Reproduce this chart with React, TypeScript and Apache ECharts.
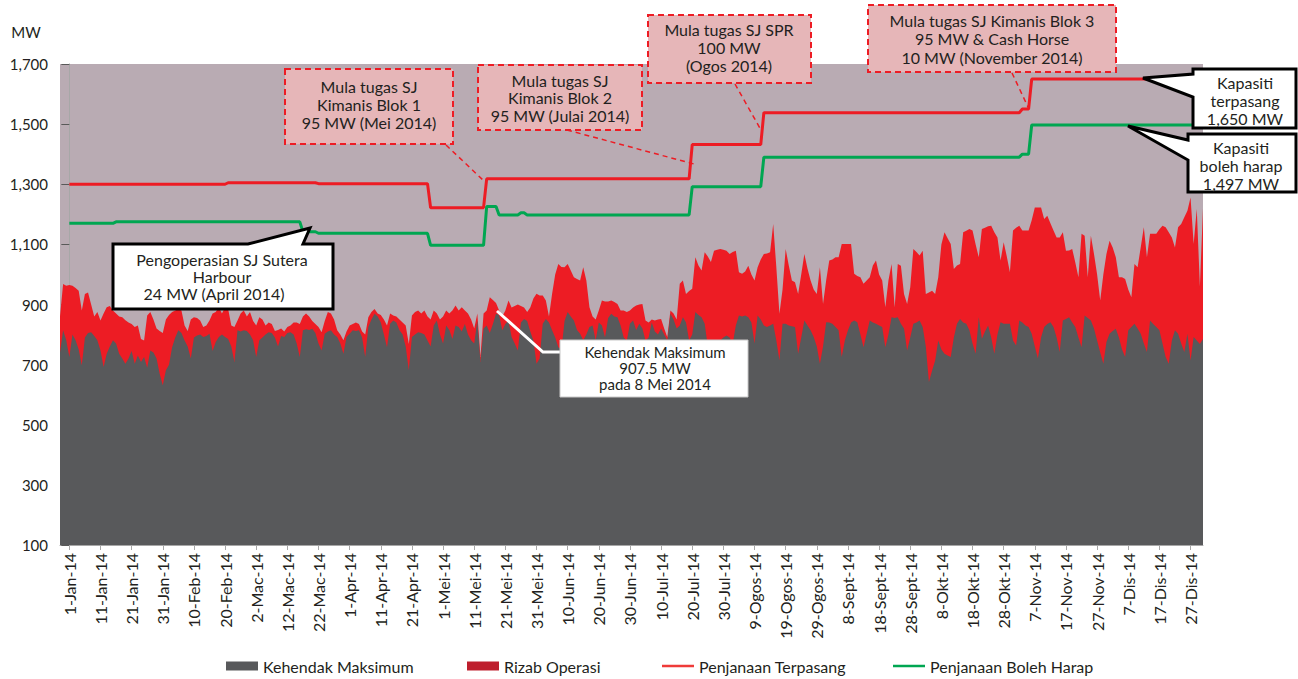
import React, { useEffect, useRef } from "react";
import * as echarts from "echarts";

// Area data begins three days before 1 Jan 2014 (visible at the left edge of the plot)
const AREA_FIRST_DAY = -3;

// Kehendak Maksimum (MW), daily, from 29 Dis 2013 to 31 Dis 2014
const kehendakMaksimum: number[] = [
  740, 814, 781,
  // Jan
  725, 800, 781, 750, 698, 790, 805, 808, 795, 781, 747, 692, 736, 760, 781, 770, 736, 720, 703, 720, 745, 703, 730, 709, 725, 690, 747, 740, 720, 670, 631,
  // Feb
  681, 700, 758, 790, 814, 805, 780, 760, 720, 790, 797, 800, 792, 795, 803, 745, 775, 792, 800, 792, 785, 760, 709, 814, 810, 814, 812, 800,
  // Mac
  781, 725, 781, 790, 800, 808, 805, 790, 760, 795, 792, 805, 808, 800, 770, 725, 814, 818, 815, 819, 805, 770, 747, 803, 810, 814, 800, 792, 770, 736, 792,
  // Apr
  803, 814, 812, 814, 790, 725, 825, 850, 869, 860, 840, 800, 758, 836, 847, 840, 814, 800, 760, 681, 792, 800, 808, 805, 800, 780, 760, 830, 847, 800,
  // Mei
  770, 830, 815, 785, 830, 825, 810, 835, 800, 781, 770, 847, 709, 820, 830, 805, 835, 869, 865, 814, 835, 847, 792, 770, 747, 840, 852, 845, 810, 780, 703,
  // Jun
  720, 836, 852, 840, 814, 790, 758, 750, 845, 875, 860, 847, 815, 803, 781, 800, 825, 830, 781, 840, 830, 790, 855, 869, 860, 858, 830, 790, 780, 836,
  // Jul
  847, 815, 836, 820, 780, 790, 840, 810, 800, 820, 800, 780, 869, 850, 820, 830, 858, 840, 780, 800, 875, 865, 858, 836, 760, 725, 730, 745, 780, 790, 797,
  // Ogos
  790, 770, 830, 863, 860, 863, 858, 840, 770, 863, 850, 830, 825, 830, 836, 780, 714, 836, 836, 830, 828, 825, 736, 790, 847, 830, 814, 792, 760, 703, 760,
  // Sept
  841, 840, 836, 825, 814, 725, 780, 814, 840, 847, 841, 800, 758, 803, 847, 840, 836, 830, 825, 758, 800, 858, 855, 858, 836, 820, 747, 790, 836, 840,
  // Okt
  847, 825, 760, 642, 680, 714, 780, 750, 736, 730, 725, 790, 836, 852, 840, 836, 814, 770, 736, 858, 786, 810, 830, 790, 736, 800, 841, 836, 836, 836, 780,
  // Nov
  764, 847, 840, 830, 825, 803, 760, 720, 790, 825, 835, 841, 825, 790, 742, 847, 852, 858, 840, 825, 790, 758, 863, 855, 847, 820, 780, 740, 703, 775,
  // Dis
  803, 812, 819, 790, 750, 725, 814, 825, 836, 820, 803, 770, 742, 847, 835, 825, 814, 770, 725, 703, 780, 814, 803, 770, 742, 803, 714, 792, 780, 769, 785,
];

// Kehendak + Rizab Operasi (MW): top edge of the red area, daily
const kapasitiTersedia: number[] = [
  860, 968, 962,
  // Jan
  965, 962, 955, 946, 880, 935, 940, 900, 860, 875, 847, 870, 891, 895, 880, 870, 860, 858, 848, 840, 835, 825, 830, 785, 780, 863, 875, 850, 820, 812, 805,
  // Feb
  850, 865, 875, 880, 885, 880, 830, 812, 850, 858, 855, 847, 825, 830, 847, 870, 875, 891, 870, 891, 885, 830, 825, 847, 870, 880, 860, 875,
  // Mac
  845, 830, 858, 850, 830, 840, 835, 812, 815, 820, 810, 825, 830, 840, 840, 835, 860, 870, 860, 845, 835, 825, 808, 845, 875, 870, 850, 814, 800, 781, 810,
  // Apr
  830, 835, 840, 835, 810, 800, 858, 875, 885, 870, 865, 850, 830, 870, 863, 860, 850, 840, 830, 769, 863, 875, 880, 870, 880, 860, 850, 880, 870, 850,
  // Mei
  860, 880, 870, 880, 897, 880, 891, 880, 870, 850, 820, 870, 725, 870, 880, 924, 915, 905, 880, 860, 880, 913, 890, 895, 900, 895, 890, 875, 890, 920, 936,
  // Jun
  930, 930, 913, 860, 935, 1000, 1035, 1025, 1024, 1035, 1013, 991, 985, 980, 1024, 980, 891, 860, 850, 880, 913, 910, 910, 913, 908, 902, 880, 880, 875, 880,
  // Jul
  890, 897, 900, 902, 847, 840, 850, 847, 850, 852, 820, 791, 880, 870, 850, 969, 980, 935, 945, 952, 1057, 1030, 1013, 1074, 1060, 1041, 1079, 1082, 1085, 1082, 1079,
  // Ogos
  1068, 1075, 1079, 1007, 1002, 1010, 1029, 1000, 980, 1024, 1050, 1068, 1070, 1074, 1168, 1024, 869, 950, 1085, 1030, 980, 974, 935, 1000, 1068, 1020, 980, 950, 935, 1024, 902,
  // Sept
  980, 1046, 1050, 1057, 1057, 1101, 1101, 1101, 1101, 1002, 995, 991, 969, 980, 991, 1030, 1046, 1000, 980, 891, 980, 1035, 890, 1035, 1029, 935, 902, 957, 1085, 1075,
  // Okt
  1063, 1079, 935, 940, 946, 935, 991, 1100, 1140, 1120, 1101, 1018, 1030, 1035, 1140, 1145, 1151, 1146, 1100, 1057, 1151, 1155, 1160, 1162, 1140, 1123, 1046, 1107, 1060, 1007, 1146,
  // Nov
  1155, 1162, 1146, 1146, 1146, 1180, 1223, 1223, 1223, 1184, 1195, 1170, 1146, 1123, 1123, 1140, 1079, 1080, 1085, 1040, 991, 1135, 1129, 991, 1129, 1068, 1000, 913, 1000, 1068,
  // Dis
  1112, 1090, 1057, 991, 991, 985, 950, 924, 1035, 1024, 1090, 1157, 1057, 1135, 1135, 1135, 1150, 1162, 1157, 1140, 1123, 1090, 1157, 1168, 1190, 1212, 1256, 1101, 1218, 960, 1220,
];

// Step changes of the two capacity lines (day index from 1 Jan 2014)
const terpasangStartDay = [0, 51, 80, 116, 134, 200, 223, 306, 309];
const terpasangMW = [1300, 1305, 1302, 1222, 1318, 1432, 1538, 1550, 1650];
const bolehHarapStartDay = [0, 15, 75, 80, 116, 134, 138, 145, 147, 200, 223, 306, 309];
const bolehHarapMW = [1170, 1175, 1142, 1137, 1097, 1226, 1198, 1205, 1198, 1292, 1390, 1400, 1497];
const LAST_DAY = 364;

const xTickDays = [0, 10, 20, 30, 40, 50, 60, 70, 80, 90, 100, 110, 120, 130, 140, 150, 160, 170, 180, 190, 200, 210, 220, 230, 240, 250, 260, 270, 280, 290, 300, 310, 320, 330, 340, 350, 360];
const xTickLabels = [
  "1-Jan-14", "11-Jan-14", "21-Jan-14", "31-Jan-14", "10-Feb-14", "20-Feb-14", "2-Mac-14", "12-Mac-14", "22-Mac-14",
  "1-Apr-14", "11-Apr-14", "21-Apr-14", "1-Mei-14", "11-Mei-14", "21-Mei-14", "31-Mei-14", "10-Jun-14", "20-Jun-14",
  "30-Jun-14", "10-Jul-14", "20-Jul-14", "30-Jul-14", "9-Ogos-14", "19-Ogos-14", "29-Ogos-14", "8-Sept-14", "18-Sept-14",
  "28-Sept-14", "8-Okt-14", "18-Okt-14", "28-Okt-14", "7-Nov-14", "17-Nov-14", "27-Nov-14", "7-Dis-14", "17-Dis-14", "27-Dis-14",
];
const yTickValues = [100, 300, 500, 700, 900, 1100, 1300, 1500, 1700];

const FONT = "Lato, 'Open Sans', 'DejaVu Sans', sans-serif";
const TXT = "#231f20";
const LINE_ICON = "path://M0,0 L32,0 L32,2.5 L0,2.5 Z";

function stepSeries(starts: number[], values: number[]): number[][] {
  const out: number[][] = [];
  for (let d = 0; d <= LAST_DAY; d++) {
    let v = values[0];
    for (let k = 0; k < starts.length; k++) if (starts[k] <= d) v = values[k];
    out.push([d, v]);
  }
  return out;
}

function textLines(cx: number, y0: number, dy: number, lines: string[], size = 16) {
  return lines.map((t, i) => ({
    type: "text",
    z: 101,
    x: cx,
    y: y0 + i * dy,
    style: { text: t, fill: TXT, font: `${size}px ${FONT}`, align: "center", verticalAlign: "middle" },
  }));
}

function dashedBox(x: number, y: number, w: number, h: number) {
  return {
    type: "rect",
    z: 100,
    shape: { x, y, width: w, height: h },
    style: { fill: "#e6b6b8", stroke: "#ed1c24", lineWidth: 2, lineDash: [6, 4] },
  };
}

function dashedLeader(x1: number, y1: number, x2: number, y2: number) {
  return {
    type: "line",
    z: 100,
    shape: { x1, y1, x2, y2 },
    style: { stroke: "#ed1c24", lineWidth: 1.5, lineDash: [5, 4] },
  };
}

function callout(points: number[][]) {
  return {
    type: "polygon",
    z: 100,
    shape: { points },
    style: { fill: "#ffffff", stroke: "#000000", lineWidth: 3, lineJoin: "miter" },
  };
}

export default function App() {
  const ref = useRef<HTMLDivElement>(null);

  useEffect(() => {
    if (!ref.current) return;
    const chart = echarts.init(ref.current, undefined, { renderer: "svg" });

    const n = Math.min(kehendakMaksimum.length, kapasitiTersedia.length);
    const demandData: number[][] = [];
    const topData: number[][] = [];
    for (let i = 0; i < n; i++) {
      const day = AREA_FIRST_DAY + i;
      demandData.push([day, kehendakMaksimum[i]]);
      // Rizab Operasi sits on top of the demand: its upper edge is demand + reserve
      topData.push([day, kapasitiTersedia[i]]);
    }

    const legendText = { color: TXT, fontFamily: FONT, fontSize: 16 };
    const legendBase = {
      top: 658,
      itemWidth: 32,
      itemHeight: 9,
      itemGap: 6,
      selectedMode: false,
      textStyle: legendText,
      padding: 0,
    };

    const option: any = {
      animation: false,
      backgroundColor: "#ffffff",
      textStyle: { fontFamily: FONT },
      grid: {
        left: 60,
        top: 64,
        right: 95,
        bottom: 134,
        show: true,
        backgroundColor: "#b9abb3",
        borderWidth: 0,
      },
      legend: [
        { ...legendBase, left: 226, data: [{ name: "Kehendak Maksimum", icon: "rect", itemStyle: { color: "#58595b" } }] },
        { ...legendBase, left: 467, data: [{ name: "Rizab Operasi", icon: "rect", itemStyle: { color: "#be1e2d" } }] },
        { ...legendBase, left: 662, data: [{ name: "Penjanaan Terpasang", icon: LINE_ICON, itemStyle: { color: "#ef3b39" } }] },
        { ...legendBase, left: 893, data: [{ name: "Penjanaan Boleh Harap", icon: LINE_ICON, itemStyle: { color: "#00a651" } }] },
      ],
      xAxis: {
        type: "value",
        min: AREA_FIRST_DAY,
        max: LAST_DAY,
        axisLine: { show: true, lineStyle: { color: "#a7a7a7", width: 1 } },
        axisTick: { show: true, customValues: xTickDays, length: 5, lineStyle: { color: "#a7a7a7" } },
        axisLabel: {
          customValues: xTickDays,
          rotate: 90,
          margin: 8,
          color: TXT,
          fontFamily: FONT,
          fontSize: 16,
          formatter: (v: number) => xTickLabels[Math.round(v / 10)] ?? "",
        },
        splitLine: { show: false },
      },
      yAxis: {
        type: "value",
        min: 100,
        max: 1700,
        axisLine: { show: true, lineStyle: { color: "#a7a7a7", width: 1 } },
        axisTick: { show: true, customValues: yTickValues, length: 8, lineStyle: { color: "#595959" } },
        axisLabel: {
          customValues: yTickValues,
          margin: 12,
          color: TXT,
          fontFamily: FONT,
          fontSize: 15,
          formatter: (v: number) => v.toLocaleString("en-US"),
        },
        splitLine: { show: false },
      },
      series: [
        {
          name: "Rizab Operasi",
          type: "line",
          data: topData,
          symbol: "none",
          lineStyle: { width: 0 },
          itemStyle: { color: "#ed1c24" },
          areaStyle: { color: "#ed1c24", opacity: 1 },
          z: 2,
        },
        {
          name: "Kehendak Maksimum",
          type: "line",
          data: demandData,
          symbol: "none",
          lineStyle: { width: 0 },
          itemStyle: { color: "#58595b" },
          areaStyle: { color: "#58595b", opacity: 1 },
          z: 3,
        },
        {
          name: "Penjanaan Terpasang",
          type: "line",
          data: stepSeries(terpasangStartDay, terpasangMW),
          symbol: "none",
          lineStyle: { width: 3, color: "#ed1c24" },
          itemStyle: { color: "#ef3b39" },
          z: 4,
        },
        {
          name: "Penjanaan Boleh Harap",
          type: "line",
          data: stepSeries(bolehHarapStartDay, bolehHarapMW),
          symbol: "none",
          lineStyle: { width: 3, color: "#00a651" },
          itemStyle: { color: "#00a651" },
          z: 4,
        },
      ],
      graphic: [
        {
          type: "text",
          z: 101,
          x: 26,
          y: 32,
          style: { text: "MW", fill: TXT, font: `15px ${FONT}`, align: "center", verticalAlign: "middle" },
        },
        // Sutera Harbour callout
        callout([[113, 244], [248, 244], [310, 228], [303, 244], [333, 244], [333, 309], [113, 309]]),
        ...textLines(222, 259, 17, ["Pengoperasian SJ Sutera", "Harbour"]),
        ...textLines(214, 293, 17, ["24 MW (April 2014)"]),
        // Kehendak Maksimum note
        {
          type: "polyline",
          z: 100,
          shape: { points: [[497, 311], [543, 352], [561, 352]] },
          style: { stroke: "#ffffff", lineWidth: 3, fill: null },
        },
        {
          type: "rect",
          z: 100,
          shape: { x: 560, y: 340, width: 188, height: 57 },
          style: { fill: "#ffffff", stroke: "#c8c8c8", lineWidth: 1 },
        },
        ...textLines(655, 352, 16, ["Kehendak Maksimum", "907.5 MW", "pada 8 Mei 2014"], 15),
        // Dashed commissioning notes
        dashedLeader(446, 145, 484, 181),
        dashedBox(285, 69, 168, 75),
        ...textLines(369, 86, 18, ["Mula tugas SJ", "Kimanis Blok 1", "95 MW (Mei 2014)"]),
        dashedLeader(567, 130, 694, 164),
        dashedBox(478, 65, 164, 65),
        ...textLines(560, 80, 17.5, ["Mula tugas SJ", "Kimanis Blok 2", "95 MW (Julai 2014)"]),
        dashedLeader(735, 84, 761, 130),
        dashedBox(648, 15, 163, 68),
        ...textLines(729, 29, 18, ["Mula tugas SJ SPR", "100 MW", "(Ogos 2014)"]),
        dashedLeader(1012, 73, 1028, 107),
        dashedBox(868, 5, 248, 67),
        ...textLines(992, 20, 18.5, ["Mula tugas SJ Kimanis Blok 3", "95 MW & Cash Horse", "10 MW (November 2014)"]),
        // Capacity callouts at right
        callout([[1193, 69], [1296, 69], [1296, 128], [1193, 128], [1193, 97], [1143, 78], [1193, 74]]),
        ...textLines(1245, 82, 18, ["Kapasiti", "terpasang", "1,650 MW"]),
        callout([[1188, 134], [1296, 134], [1296, 192], [1188, 192], [1188, 160], [1128, 126], [1188, 140]]),
        ...textLines(1241, 147, 18, ["Kapasiti", "boleh harap", "1,497 MW"]),
      ],
    };

    chart.setOption(option);
    return () => chart.dispose();
  }, []);

  return <div ref={ref} style={{ position: "fixed", left: 0, top: 0, width: 1298, height: 679 }} />;
}
